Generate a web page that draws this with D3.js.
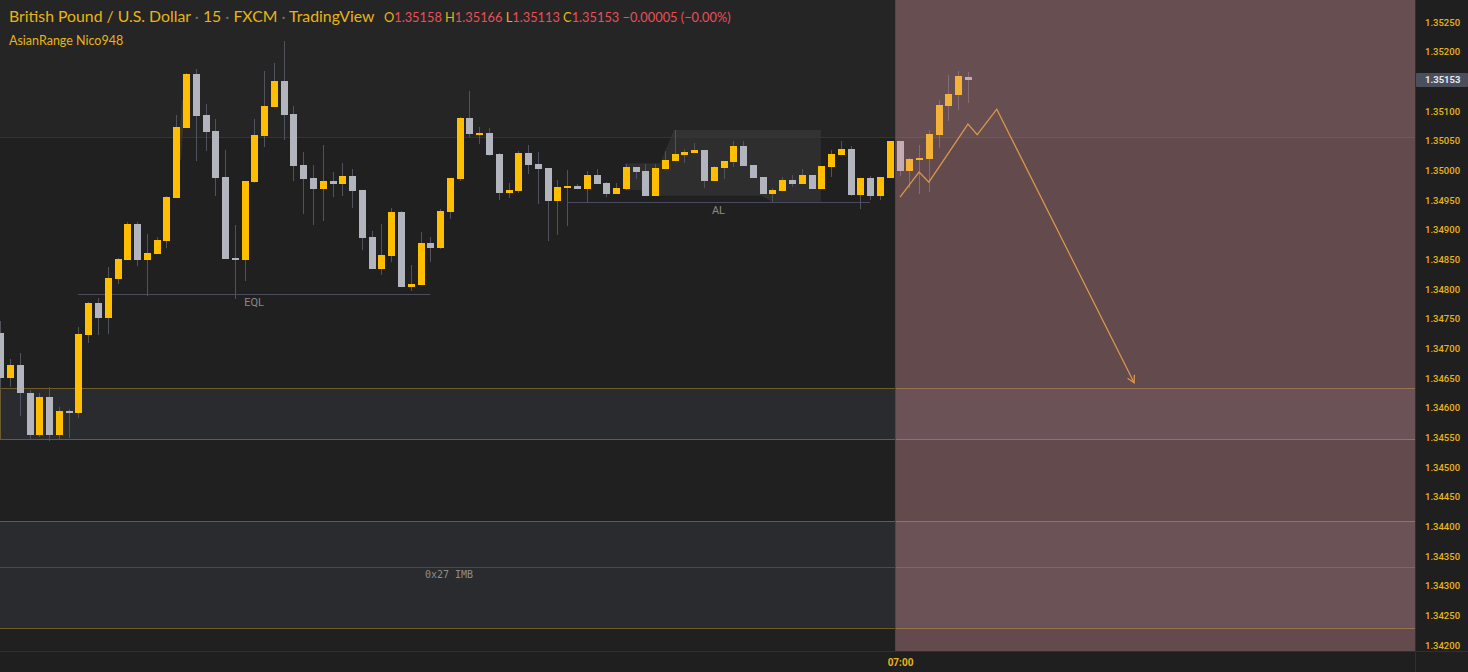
<!DOCTYPE html>
<html><head><meta charset="utf-8">
<script src="https://cdn.jsdelivr.net/npm/d3@7/dist/d3.min.js"></script>
<style>html,body{margin:0;padding:0;background:#1f1f1f;overflow:hidden}</style>
</head><body><svg id="c" width="1468" height="672"></svg>
<script>
// ---------- data ----------
const opens  = [1.34726,1.3465,1.34672,1.34625,1.34554,1.34618,1.34554,1.34594,1.34591,1.34722,
1.34776,1.34751,1.34817,1.34849,1.3491,1.34849,1.34859,1.34881,1.34953,1.35071,
1.35162,1.35093,1.35066,1.34989,1.34852,1.34849,1.3498,1.35058,1.35107,1.35151,
1.35095,1.35009,1.34987,1.34969,1.34982,1.34977,1.3499,1.34967,1.34888,1.34834,
1.34856,1.3493,1.34803,1.34807,1.34878,1.34869,1.3493,1.34985,1.35088,1.35061,
1.35063,1.35028,1.34962,1.34965,1.35029,1.35011,1.35004,1.34948,1.3497,1.34974,
1.34969,1.34992,1.34979,1.3496,1.34969,1.35006,1.34999,1.34957,1.35002,1.35016,
1.35026,1.35029,1.35034,1.34982,1.35004,1.35014,1.35041,1.35009,1.34989,1.3496,
1.34965,1.34984,1.34977,1.34992,1.34969,1.35006,1.35026,1.35036,1.34958,1.34987,
1.34957,1.34987,1.35049,1.34999,1.35017,1.35019,1.3506,1.35108,1.35127,1.35158];
const highs  = [1.34746,1.34682,1.34692,1.3463,1.34625,1.34635,1.34601,1.34598,1.34736,1.34778,
1.34785,1.34837,1.34852,1.34913,1.34913,1.34893,1.34888,1.34957,1.35093,1.35164,
1.35171,1.35112,1.35087,1.35034,1.34908,1.34982,1.35087,1.35167,1.35181,1.35218,
1.35108,1.35031,1.35009,1.35043,1.34997,1.35012,1.35002,1.34967,1.34898,1.3491,
1.34937,1.34931,1.3484,1.34896,1.34888,1.34935,1.34987,1.3509,1.35134,1.35073,
1.35071,1.35029,1.34979,1.35033,1.35043,1.35031,1.35004,1.34984,1.35001,1.34977,
1.34999,1.35002,1.3498,1.34979,1.35011,1.35006,1.35011,1.35011,1.35033,1.35068,
1.35036,1.35046,1.35034,1.35007,1.35016,1.35049,1.35049,1.35009,1.34989,1.3497,
1.34989,1.34992,1.35002,1.34992,1.35007,1.35034,1.35049,1.35041,1.34987,1.3499,
1.34989,1.35049,1.35049,1.35021,1.35043,1.35068,1.35119,1.35161,1.35167,1.35166];
const lows   = [1.3463,1.34635,1.34586,1.34546,1.34551,1.34544,1.34547,1.34549,1.34583,1.34709,
1.34722,1.34724,1.34808,1.34849,1.34839,1.34788,1.34859,1.34869,1.34953,1.35071,
1.35016,1.35033,1.34957,1.34851,1.34783,1.34814,1.34979,1.35039,1.35107,1.35051,
1.34982,1.34926,1.34908,1.34915,1.34955,1.34957,1.34937,1.34866,1.34834,1.34824,
1.34846,1.34803,1.34797,1.34807,1.34846,1.34867,1.34918,1.34982,1.35056,1.35044,
1.35024,1.3495,1.34953,1.34962,1.34994,1.34943,1.34881,1.34891,1.34906,1.34969,
1.34947,1.34977,1.34955,1.3496,1.34967,1.34985,1.34957,1.34957,1.35002,1.35016,
1.35012,1.35029,1.3497,1.34982,1.34985,1.35006,1.35007,1.34987,1.3496,1.34947,
1.34965,1.34972,1.34977,1.34969,1.34969,1.34989,1.35026,1.34957,1.34935,1.3495,
1.3495,1.34987,1.3499,1.3497,1.3496,1.34964,1.35038,1.35083,1.35102,1.35113];
const closes = [1.3465,1.34672,1.34624,1.34554,1.34618,1.34554,1.34594,1.34591,1.34724,1.34776,
1.34751,1.34819,1.34851,1.3491,1.34849,1.34861,1.34883,1.34955,1.35073,1.35162,
1.35092,1.35065,1.34987,1.34851,1.34849,1.34982,1.3506,1.35108,1.35151,1.35093,
1.35007,1.34985,1.34969,1.34982,1.34977,1.3499,1.34965,1.34886,1.34834,1.34857,
1.3493,1.34803,1.34808,1.34878,1.34869,1.34931,1.34987,1.35088,1.35061,1.35063,
1.35026,1.34962,1.34967,1.35029,1.35009,1.35002,1.34948,1.34972,1.34974,1.34969,
1.34992,1.34977,1.3496,1.3497,1.35006,1.34997,1.34957,1.35004,1.35017,1.35028,
1.35031,1.35034,1.34982,1.35006,1.35016,1.35041,1.35007,1.34987,1.3496,1.34967,
1.34984,1.34977,1.34992,1.34969,1.35007,1.35028,1.35036,1.34958,1.34987,1.34957,
1.34989,1.35049,1.34999,1.35019,1.35021,1.35061,1.3511,1.35129,1.35159,1.35153];

const priceTicks = d3.range(0, 22).map(i => +(1.342 + i * 0.0005).toFixed(4));
const timeTickIdx = [92];
const timeTickLabels = ["07:00"];

const sessionLine = 1.35056;          // level where background shade changes
const zoneTops    = [1.34633, 1.34409];
const zoneBottoms = [1.34547, 1.34229];
const imbMid = 1.34331;
const imbLabel = "0x27 IMB";
const eqlLevel = 1.34792, eqlFrom = 7.9, eqlTo = 43.95;
const alLevel = 1.34947,  alFrom = 57.93, alTo = 88.93;
const alShapeIdx = [63.87, 67.45, 68.88, 83.9, 83.9, 78.88, 77.86, 66.4, 65.4, 63.87];
const alShapePx  = [1.35012,1.35012,1.35068,1.35068,1.34947,1.34947,1.34957,1.34957,1.34967,1.34967];
const sliverIdx = [18.13, 18.54, 18.85, 18.44];
const sliverPx  = [1.35017, 1.35119, 1.35119, 1.35017];
const sessionStartIdx = 91.5;
const arrowIdx = [92, 93.95, 94.95, 98.95, 99.9, 101.9, 115.95];
const arrowPx  = [1.34955, 1.34997, 1.3498, 1.35078, 1.3506, 1.35103, 1.34642];

// ---------- layout ----------
const W = 1468, H = 672, plotR = 1415, plotB = 651;
const x = d3.scaleLinear().domain([1, 99]).range([10.5, 10.5 + 98 * 9.775]);
const y = d3.scaleLinear().domain([1.3525, 1.342]).range([22, 645]);
const svg = d3.select("#c");
const GOLD = "#e8b418", YEL = "#ffbf00", GRAY = "#b2b5be", WICK = "#50535e";

const plot = svg.append("g");
plot.append("rect").attr("x",0).attr("y",0).attr("width",plotR).attr("height",plotB).attr("fill","#202020");
plot.append("rect").attr("x",0).attr("y",0).attr("width",plotR).attr("height",y(sessionLine)).attr("fill","#252525");

// zones
zoneTops.forEach((t, i) => {
  plot.append("rect").attr("x",0).attr("y",y(t)).attr("width",plotR).attr("height",y(zoneBottoms[i]) - y(t)).attr("fill","#2a2b2e");
});
plot.append("line").attr("x1",0.5).attr("x2",0.5).attr("y1",y(zoneTops[0])).attr("y2",y(zoneBottoms[0])).attr("stroke","#6f5c2a");

// AL shape and sliver
const pts = (xs, ps) => xs.map((v, i) => [x(v), y(ps[i])].join(",")).join(" ");
plot.append("polygon").attr("points", pts(alShapeIdx, alShapePx)).attr("fill","rgba(255,255,255,0.065)");
plot.append("polygon").attr("points", pts(sliverIdx, sliverPx)).attr("fill","rgba(255,192,0,0.12)");

const hline = (p, x1, x2, col) => plot.append("line").attr("x1",x1).attr("x2",x2)
  .attr("y1",Math.round(y(p))+0.5).attr("y2",Math.round(y(p))+0.5).attr("stroke",col).attr("stroke-width",1);
hline(sessionLine, 0, plotR, "#343434");
zoneTops.forEach((t, i) => { hline(t, 0, plotR, "#6f5c2a"); hline(zoneBottoms[i], 0, plotR, "#6f5c2a"); });
hline(imbMid, 0, plotR, "#4a4858");
plot.append("text").attr("x",449).attr("y",y(imbMid)+11).attr("text-anchor","middle")
  .attr("font-family","DejaVu Sans Mono").attr("font-size",10).attr("fill","#8e8e8e").text(imbLabel);

hline(eqlLevel, x(eqlFrom), x(eqlTo), "#4a4b5c");
plot.append("text").attr("x",(x(eqlFrom)+x(eqlTo))/2).attr("y",y(eqlLevel)+12).attr("text-anchor","middle")
  .attr("font-family","Roboto").attr("font-size",11).attr("fill","#8a8a8a").text("EQL");
hline(alLevel, x(alFrom), x(alTo), "#4a4b5c");
plot.append("text").attr("x",(x(alFrom)+x(alTo))/2).attr("y",y(alLevel)+12).attr("text-anchor","middle")
  .attr("font-family","Roboto").attr("font-size",11).attr("fill","#8a8a8a").text("AL");

// candles
const candles = opens.map((o, i) => ({i, o, h: highs[i], l: lows[i], c: closes[i]}));
const cg = plot.append("g");
candles.forEach(d => {
  const left = Math.round(x(d.i) - 3.5);
  const up = d.c >= d.o;
  cg.append("rect").attr("x", left + 3).attr("width", 1)
    .attr("y", Math.round(y(d.h))).attr("height", Math.max(1, Math.round(y(d.l)) - Math.round(y(d.h))))
    .attr("fill", WICK);
  const top = Math.round(y(Math.max(d.o, d.c)));
  const bot = Math.round(y(Math.min(d.o, d.c)));
  cg.append("rect").attr("x", left).attr("width", 7)
    .attr("y", top).attr("height", Math.max(2, bot - top))
    .attr("fill", up ? YEL : GRAY);
});

// session overlay
const sx = Math.round(x(sessionStartIdx));
plot.append("rect").attr("x", sx).attr("y", 0).attr("width", plotR - sx).attr("height", plotB)
  .attr("fill", "rgba(226,155,160,0.35)");
plot.append("line").attr("x1", sx + 0.5).attr("x2", sx + 0.5).attr("y1", 0).attr("y2", plotB)
  .attr("stroke", "#8e2a3c");

// arrow
const ap = arrowIdx.map((v, i) => [x(v), y(arrowPx[i])]);
plot.append("path").attr("d", d3.line()(ap)).attr("fill","none").attr("stroke","#d8954c").attr("stroke-width",1.3);
{
  const [x1, y1] = ap[ap.length - 2], [x2, y2] = ap[ap.length - 1];
  const ang = Math.atan2(y2 - y1, x2 - x1), L = 8;
  const a1 = ang + Math.PI - 0.5, a2 = ang + Math.PI + 0.5;
  plot.append("path").attr("d", d3.line()([[x2 + L*Math.cos(a1), y2 + L*Math.sin(a1)], [x2, y2], [x2 + L*Math.cos(a2), y2 + L*Math.sin(a2)]]))
    .attr("fill","none").attr("stroke","#d8954c").attr("stroke-width",1.3);
}

// right axis
svg.append("rect").attr("x", plotR).attr("y", 0).attr("width", W - plotR).attr("height", H).attr("fill", "#1f1f1f");
svg.append("rect").attr("x", 0).attr("y", plotB).attr("width", W).attr("height", H - plotB).attr("fill", "#1f1f1f");
svg.append("line").attr("x1", plotR + 0.5).attr("x2", plotR + 0.5).attr("y1", 0).attr("y2", H).attr("stroke", "#2f2f35");
svg.append("line").attr("x1", 0).attr("x2", W).attr("y1", plotB + 0.5).attr("y2", plotB + 0.5).attr("stroke", "#2f2f35");

const yAxis = svg.append("g").attr("transform", `translate(${plotR},0)`)
  .call(d3.axisRight(y).tickValues(priceTicks).tickSize(0).tickPadding(10).tickFormat(d3.format(".5f")));
yAxis.select(".domain").remove();
yAxis.selectAll("text").attr("fill", GOLD).attr("font-family", "Roboto").attr("font-size", 9.5).attr("font-weight", 500);

// last price label
const last = closes[closes.length - 1];
svg.append("rect").attr("x", plotR + 1).attr("y", Math.round(y(last)) - 7).attr("width", W - plotR - 1).attr("height", 14)
  .attr("fill", "#4b4f5b").attr("rx", 1);
svg.append("text").attr("x", plotR + 10).attr("y", y(last)).attr("dy", "0.35em")
  .attr("font-family", "Roboto").attr("font-size", 9.5).attr("font-weight", 700).attr("fill", "#e6e8ee")
  .text(d3.format(".5f")(last));

// time axis
const xAxis = svg.append("g").attr("transform", `translate(0,${plotB})`)
  .call(d3.axisBottom(x).tickValues(timeTickIdx).tickSize(0).tickPadding(8).tickFormat((d, i) => timeTickLabels[i]));
xAxis.select(".domain").remove();
xAxis.selectAll("text").attr("fill", GOLD).attr("font-family", "Roboto").attr("font-size", 10).attr("font-weight", 700);

// header
const f5 = d3.format(".5f");
const t1 = svg.append("text").attr("x", 9).attr("y", 22).attr("font-family", "Lato").attr("font-size", 15.8).attr("fill", GOLD);
const parts = ["British Pound / U.S. Dollar", "15", "FXCM", "TradingView"];
parts.forEach((p, i) => {
  if (i > 0) t1.append("tspan").attr("fill", "#6e6e6e").text(" · ");
  t1.append("tspan").text(p);
});
const o = opens[99], h = highs[99], l = lows[99], c = closes[99];
const chg = c - o;
const t2 = svg.append("text").attr("x", 384).attr("y", 22).attr("font-family", "Lato").attr("font-size", 12.8);
[["O", f5(o)], ["H", f5(h)], ["L", f5(l)], ["C", f5(c)]].forEach(([k, v], i) => {
  t2.append("tspan").attr("fill", GOLD).text((i ? " " : "") + k);
  t2.append("tspan").attr("fill", "#e8505b").text(v);
});
t2.append("tspan").attr("fill", "#e8505b")
  .text(" " + (chg < 0 ? "\u2212" : "+") + Math.abs(chg).toFixed(5) + " (" + (chg < 0 ? "\u2212" : "+") + Math.abs(chg / o * 100).toFixed(2) + "%)");
svg.append("text").attr("x", 9).attr("y", 45).attr("font-family", "Lato").attr("font-size", 12.5).attr("fill", GOLD).text("AsianRange Nico948");
</script></body></html>
